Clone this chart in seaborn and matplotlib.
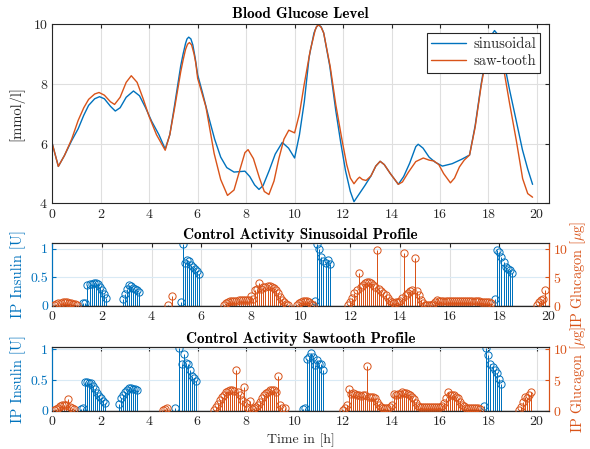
import numpy as np
import pandas as pd
import seaborn as sns
import matplotlib
matplotlib.use("Agg")
import matplotlib.pyplot as plt

# ---------------- data ----------------
sin_t = [0.0,0.25,0.5,0.8,1.07,1.3,1.5,1.75,1.95,2.15,2.4,2.6,2.8,3.05,3.35,3.6,3.85,4.1,4.4,4.66,4.85,5.05,5.3,5.4,5.5,5.56,5.63,5.72,5.8,5.9,6.0,6.2,6.45,6.7,6.95,7.2,7.5,7.8,7.95,8.15,8.35,8.53,8.7,8.95,9.2,9.49,9.75,10.0,10.2,10.4,10.6,10.8,10.9,11.0,11.1,11.2,11.45,11.7,11.9,12.1,12.3,12.45,12.65,12.9,13.15,13.35,13.53,13.7,13.95,14.28,14.5,14.75,15.0,15.1,15.3,15.55,15.8,16.1,16.5,16.9,17.22,17.45,17.7,17.95,18.1,18.25,18.38,18.5,18.87,19.15,19.4,19.62,19.82]
sin_v = [6.0,5.24,5.6,6.1,6.5,6.95,7.28,7.5,7.57,7.5,7.25,7.09,7.2,7.55,7.76,7.6,7.2,6.75,6.3,5.82,6.3,7.3,8.6,9.0,9.35,9.5,9.56,9.5,9.3,8.85,8.3,7.7,6.9,6.15,5.55,5.2,5.05,5.07,5.08,4.9,4.62,4.47,4.6,5.1,5.65,6.04,5.85,5.52,6.3,7.4,8.9,9.7,9.9,9.97,9.9,9.7,8.6,7.1,6.05,5.1,4.4,4.06,4.3,4.6,4.92,5.25,5.41,5.3,5.0,4.64,4.9,5.35,5.9,5.98,5.85,5.55,5.38,5.25,5.33,5.48,5.62,6.6,8.0,9.2,9.6,9.78,9.65,9.3,7.8,6.75,5.8,5.15,4.64]

saw_t = [0.0,0.25,0.5,0.8,1.07,1.3,1.5,1.75,1.93,2.15,2.4,2.57,2.8,3.05,3.26,3.5,3.75,4.0,4.3,4.66,4.85,5.05,5.3,5.4,5.5,5.58,5.66,5.75,5.85,5.92,6.0,6.34,6.68,6.95,7.23,7.5,7.75,7.95,8.08,8.3,8.55,8.75,8.94,9.15,9.35,9.56,9.76,10.0,10.2,10.4,10.65,10.85,10.92,11.0,11.1,11.2,11.47,11.7,11.95,12.15,12.3,12.45,12.6,12.68,12.8,12.95,13.15,13.35,13.53,13.7,13.95,14.28,14.45,14.7,15.0,15.31,15.55,15.75,15.95,16.15,16.43,16.6,16.8,17.0,17.22,17.45,17.7,17.95,18.1,18.25,18.38,18.5,18.87,19.15,19.41,19.62,19.82]
saw_v = [6.0,5.24,5.6,6.15,6.78,7.2,7.48,7.66,7.71,7.62,7.4,7.31,7.55,8.05,8.27,8.05,7.5,6.9,6.3,5.78,6.3,7.2,8.4,8.8,9.15,9.32,9.38,9.3,9.0,8.7,8.18,7.23,5.67,4.8,4.27,4.45,5.15,5.7,5.8,5.5,4.85,4.4,4.3,4.75,5.5,6.15,6.45,6.36,7.0,8.0,9.13,9.8,9.93,9.97,9.88,9.7,8.57,7.3,6.15,5.3,4.85,4.66,4.82,4.88,4.8,4.77,4.92,5.25,5.41,5.3,5.0,4.64,4.72,5.05,5.4,5.52,5.45,5.42,5.3,5.0,4.69,4.85,5.22,5.45,5.62,6.55,7.95,9.05,9.42,9.6,9.45,9.1,7.35,6.1,4.83,4.33,4.21]

# controller samples every 5 minutes: (start minute, values)
SAMPLE_MIN = 5
sin_insulin = [
    (75, [0.05, 0.05]),
    (85, [0.37, 0.38, 0.38, 0.39, 0.40, 0.38, 0.33, 0.27, 0.20, 0.13]),
    (170, [0.12, 0.21, 0.30, 0.37, 0.35, 0.31, 0.29, 0.27, 0.24]),
    (310, [0.07, 1.08, 0.75, 0.81, 0.78, 0.72, 0.68, 0.64, 0.60, 0.55]),
    (635, [0.09, 1.08, 0.99, 0.86, 0.79, 0.75, 0.80, 0.74]),
    (1070, [0.11, 0.98, 0.94, 0.86, 0.76, 0.68, 0.65, 0.62, 0.58]),
]
sin_glucagon = [
    (5, [0.1, 0.3, 0.4, 0.5, 0.6, 0.7, 0.6, 0.5, 0.4, 0.3, 0.3, 0.2]),
    (280, [0.05]),
    (290, [1.7]),
    (415, [0.1, 0.4, 0.7, 0.8, 0.85, 0.9, 0.9, 0.95, 0.95, 1.0, 1.0, 1.0, 1.0, 1.7, 1.2, 2.7, 2.9, 3.9,
           3.0, 3.2, 3.3, 3.4, 3.4, 3.3, 3.1, 2.8, 2.3, 1.6, 1.0, 0.6, 0.3, 0.1]),
    (590, [0.05, 0.4, 0.7, 0.8, 0.9, 0.8, 0.6, 0.3, 0.1]),
    (715, [0.05, 0.6, 1.3, 2.2, 2.7, 5.7, 3.3, 3.6, 3.9, 4.1, 4.1, 3.9, 3.6, 3.2, 9.8, 2.9, 2.6, 2.3,
           1.8, 1.3, 0.8, 0.6, 0.5]),
    (830, [0.6, 0.7, 0.9, 1.3, 9.3, 1.9, 2.2, 2.5, 2.7, 8.4, 2.5, 1.8, 1.0, 0.4, 0.15, 0.05, 0.05, 0.1,
           0.3, 0.6, 1.0]),
    (935, [0.8, 0.8, 0.8, 0.85, 0.85, 0.9, 0.9, 0.9, 0.9, 0.85, 0.85, 0.85, 0.8, 0.8, 0.8, 0.8, 0.75,
           0.75, 0.75, 0.75, 0.7, 0.7, 0.7, 0.7, 0.7, 0.4]),
    (1170, [0.05, 0.6, 1.0, 1.1, 2.7]),
]
saw_insulin = [
    (70, [0.03, 0.04]),
    (80, [0.47, 0.47, 0.46, 0.45, 0.41, 0.35, 0.29, 0.24, 0.20, 0.16, 0.12]),
    (165, [0.11, 0.20, 0.25, 0.30, 0.34, 0.37, 0.37, 0.36, 0.35, 0.33]),
    (305, [0.05]),
    (315, [1.03, 0.77, 0.92, 0.78, 0.76, 0.67, 0.57, 0.54, 0.49]),
    (620, [0.02, 0.04]),
    (630, [0.84, 0.88, 0.95, 0.88, 0.75, 0.82, 0.76, 0.77, 0.66]),
    (1070, [0.07, 1.03, 0.91, 0.76, 0.72, 0.66, 0.62, 0.52, 0.43]),
]
saw_glucagon = [
    (5, [0.05, 0.3, 0.5, 0.7, 0.85, 0.9, 0.95, 1.9, 0.6, 0.4, 0.2]),
    (275, [0.05, 0.3, 0.45]),
    (400, [0.05, 0.6, 1.1, 1.7, 2.2, 2.6, 3.0, 3.2, 3.4, 3.4, 3.2, 6.6, 3.0, 2.5, 1.8, 3.8, 1.2, 0.4,
           1.6, 0.3, 0.4, 0.6, 0.9, 1.4, 2.0, 2.5, 2.9, 3.1, 3.3, 3.4, 3.3, 3.0, 5.6, 1.0, 0.5, 0.4]),
    (720, [0.05, 0.5, 1.0, 3.5, 2.7, 2.9, 2.8, 2.6, 2.5, 2.4, 2.5, 2.6, 7.3, 2.3, 2.3, 2.3, 2.0, 1.4,
           0.9, 0.6, 0.5, 0.5, 0.5, 0.6]),
    (840, [0.9, 2.8, 2.6, 2.7, 2.8, 3.0, 2.9, 2.9, 2.8, 2.6, 2.3, 1.9, 1.3, 0.8, 0.6,
           0.55, 0.6, 0.6, 0.65, 0.6, 0.6, 0.55, 0.6, 0.6, 0.65, 0.7,
           1.2, 2.0, 3.0, 2.5, 2.6, 2.5, 2.3, 2.0, 1.5, 1.0, 0.7,
           0.5, 0.5, 0.45, 0.5, 0.5, 0.45, 0.5, 0.3]),
    (1155, [0.05, 0.6, 1.4, 2.3, 2.0, 2.6, 3.1]),
]

xticks = list(range(0, 21, 2))

# ---------------- style ----------------
BLUE = "#0072BD"
ORANGE = "#D95319"
DARK = "#262626"
GRID = "#dfdfdf"
BGRID = "#d9eaf5"

sns.set_theme(style="white")
plt.rcParams["font.family"] = ["cmr10", "DejaVu Serif"]
plt.rcParams["mathtext.fontset"] = "cm"
plt.rcParams["axes.formatter.use_mathtext"] = True
plt.rcParams["axes.unicode_minus"] = False
FS = 10
TFS = 11

fig = plt.figure(figsize=(5.9, 4.49), dpi=100)
L, W = 0.0886, 0.842
ax_top = fig.add_axes([L, 0.5468, W, 0.3998])
ax_mid = fig.add_axes([L, 0.3192, W, 0.1396])
ax_bot = fig.add_axes([L, 0.0853, W, 0.1419])


def style_common(ax):
    for s in ax.spines.values():
        s.set_color(DARK)
        s.set_linewidth(0.8)
    ax.tick_params(direction="in", length=3, width=0.8, labelsize=FS, colors=DARK,
                   top=True, pad=3)
    ax.set_xticks(xticks)


# ---- top: glucose ----
sns.lineplot(x=sin_t, y=sin_v, color=BLUE, lw=1.0, label="sinusoidal", ax=ax_top,
             estimator=None, sort=False)
sns.lineplot(x=saw_t, y=saw_v, color=ORANGE, lw=1.0, label="saw-tooth", ax=ax_top,
             estimator=None, sort=False)
ax_top.set_xlim(0, 20.5)
ax_top.set_ylim(4, 10)
ax_top.set_yticks([4, 6, 8, 10])
style_common(ax_top)
ax_top.tick_params(right=True)
ax_top.grid(True, color=GRID, lw=0.8)
ax_top.set_axisbelow(True)
ax_top.set_ylabel("[mmol/l]", fontsize=FS + 0.5, color=DARK, labelpad=6)
ax_top.set_title("Blood Glucose Level", fontsize=TFS, fontfamily="cmb10", color="black", pad=4)
leg = ax_top.legend(loc="upper right", fontsize=FS + 0.5, frameon=True, fancybox=False,
                    framealpha=1, edgecolor=DARK, handlelength=2.4, borderaxespad=0.6,
                    labelspacing=0.25, borderpad=0.3, handletextpad=0.5)
leg.get_frame().set_linewidth(0.8)


def stems(ax, segments, color):
    for start, vals in segments:
        t = (start + SAMPLE_MIN * np.arange(len(vals))) / 60.0
        v = np.asarray(vals)
        ax.vlines(t, 0, v, colors=color, linewidths=0.72, zorder=3)
        ax.plot(t, v, "o", mfc="none", mec=color, ms=5.2, mew=0.7, ls="none", zorder=4)


def control_panel(ax, ins, glu, xmax, ymax_left, title, xlabel=None):
    ax2 = ax.twinx()
    stems(ax, ins, BLUE)
    stems(ax2, glu, ORANGE)
    ax.set_xlim(0, xmax)
    ax.set_ylim(0, ymax_left)
    ax2.set_ylim(0, ymax_left * 10)
    ax.set_yticks([0, 0.5, 1])
    ax.set_yticklabels(["0", "0.5", "1"])
    ax2.set_yticks([0, 5, 10])
    style_common(ax)
    ax.tick_params(axis="y", colors=BLUE)
    ax.tick_params(axis="x", colors=DARK)
    ax2.tick_params(direction="in", length=3, width=0.8, labelsize=FS, colors=ORANGE, pad=3)
    for s in ["top", "bottom"]:
        ax2.spines[s].set_color(DARK)
    ax2.spines["left"].set_color(BLUE)
    ax2.spines["right"].set_color(ORANGE)
    ax.spines["left"].set_color(BLUE)
    ax.spines["right"].set_color(ORANGE)
    for s in ax2.spines.values():
        s.set_linewidth(0.8)
    ax.grid(True, axis="x", color=GRID, lw=0.8)
    ax.grid(True, axis="y", color=BGRID, lw=0.8)
    ax.set_axisbelow(True)
    ax2.axhline(0, color="black", lw=0.9, zorder=5)
    ax.set_ylabel("IP Insulin [U]", fontsize=FS + 0.5, color=BLUE, labelpad=3)
    ax2.set_ylabel(r"IP Glucagon [$\mu$g]", fontsize=FS + 0.3, color=ORANGE, labelpad=0)
    ax.set_title(title, fontsize=TFS, fontfamily="cmb10", color="black", pad=3)
    if xlabel:
        ax.set_xlabel(xlabel, fontsize=FS, color=DARK, labelpad=4)


control_panel(ax_mid, sin_insulin, sin_glucagon, 20, 1.1, "Control Activity Sinusoidal Profile")
control_panel(ax_bot, saw_insulin, saw_glucagon, 20.5, 1.04, "Control Activity Sawtooth Profile",
              xlabel="Time in [h]")

fig.savefig("out.png", dpi=100)
